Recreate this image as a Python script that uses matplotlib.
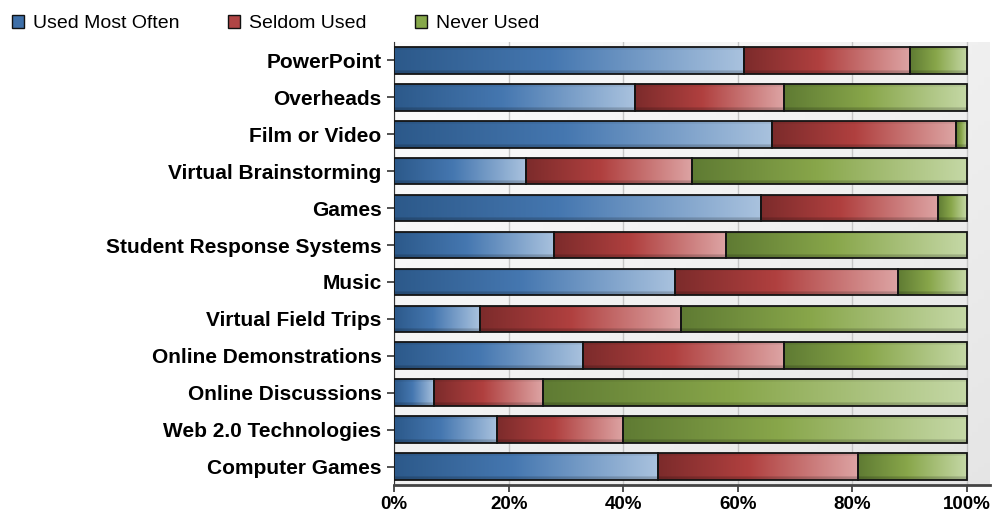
import numpy as np
import matplotlib.pyplot as plt
from matplotlib.colors import to_rgb
from matplotlib.patches import Patch

# survey results, percent of respondents
categories = ["PowerPoint", "Overheads", "Film or Video", "Virtual Brainstorming", "Games",
              "Student Response Systems", "Music", "Virtual Field Trips", "Online Demonstrations",
              "Online Discussions", "Web 2.0 Technologies", "Computer Games"]
used_most = [61, 42, 66, 23, 64, 28, 49, 15, 33, 7, 18, 46]
seldom = [29, 26, 32, 29, 31, 30, 39, 35, 35, 19, 22, 35]
never = [10, 32, 2, 48, 5, 42, 12, 50, 32, 74, 60, 19]
series_names = ["Used Most Often", "Seldom Used", "Never Used"]
x_ticks = [0, 20, 40, 60, 80, 100]

# dark -> mid -> light for each series
ramps = [("#2c598a", "#4577b0", "#a9c2de"),
         ("#7c2b2b", "#b0403f", "#dda4a4"),
         ("#5f7b33", "#88a64a", "#c5d8a6")]
legend_colors = ["#3e6fa8", "#b04545", "#86a84a"]

FONT = ["Liberation Sans", "DejaVu Sans"]


def ramp_image(cols, nx=200, ny=30):
    c0, c1, c2 = [np.array(to_rgb(c)) for c in cols]
    t = np.linspace(0, 1, nx)
    row = np.empty((nx, 3))
    for i, v in enumerate(t):
        if v < 0.45:
            f = v / 0.45
            row[i] = c0 * (1 - f) + c1 * f
        else:
            f = (v - 0.45) / 0.55
            row[i] = c1 * (1 - f) + c2 * f
    shade = np.ones(ny)
    shade[:3] = 0.93
    shade[-4:] = 0.82
    img = row[None, :, :] * shade[:, None, None]
    return np.clip(img, 0, 1)


fig = plt.figure(figsize=(9.93, 5.21), dpi=100)
ax = fig.add_axes([0.3968, 0.0691, 0.6002, 0.8503])

# panel background gradient
yy, xx = np.mgrid[0:1:100j, 0:1:100j]
bg = 0.99 - 0.09 * (0.55 * xx + 0.45 * yy)
ax.imshow(np.dstack([bg, bg, bg]), extent=[0, 1, 0, 1], transform=ax.transAxes,
          aspect="auto", zorder=-2)

y = np.arange(len(categories))
left = np.zeros(len(categories))
for vals, cols in zip([used_most, seldom, never], ramps):
    bars = ax.barh(y, vals, left=left, height=0.72, facecolor="none",
                   edgecolor="#141414", linewidth=1.3, zorder=4)
    img = ramp_image(cols)
    for b in bars:
        x0, y0, w, h = b.get_x(), b.get_y(), b.get_width(), b.get_height()
        im = ax.imshow(img, extent=[x0, x0 + w, y0 + h, y0], aspect="auto",
                       zorder=3, interpolation="bilinear")
        im.set_clip_path(b)
    left = left + np.array(vals)

ax.set_xlim(0, 104)
ax.set_ylim(len(categories) - 0.5, -0.5)
ax.set_xticks(x_ticks)
ax.set_xticklabels([f"{v}%" for v in x_ticks], fontweight="bold", fontsize=13.5, family=FONT)
ax.set_yticks(y)
ax.set_yticklabels(categories, fontweight="bold", fontsize=15, family=FONT)
ax.tick_params(axis="y", length=5, width=1.2, color="#333333", pad=4)
ax.tick_params(axis="x", length=5, width=1.2, color="#333333", pad=3)
ax.xaxis.grid(True, color="#c6c6c6", linewidth=1)
ax.set_axisbelow(True)
for s in ["top", "right"]:
    ax.spines[s].set_visible(False)
ax.spines["left"].set_color("#333333")
ax.spines["bottom"].set_color("#444444")
ax.spines["bottom"].set_linewidth(2)

handles = [Patch(facecolor=c, edgecolor="#111111", linewidth=1) for c in legend_colors]
fig.legend(handles, series_names, loc="upper left", bbox_to_anchor=(12 / 993, 1 - 15 / 521),
           ncol=3, frameon=False, prop={"family": FONT, "size": 14}, handlelength=0.62,
           handleheight=0.62, handletextpad=0.46, columnspacing=2.5, borderpad=0,
           borderaxespad=0)

fig.savefig("out.png", dpi=100)
